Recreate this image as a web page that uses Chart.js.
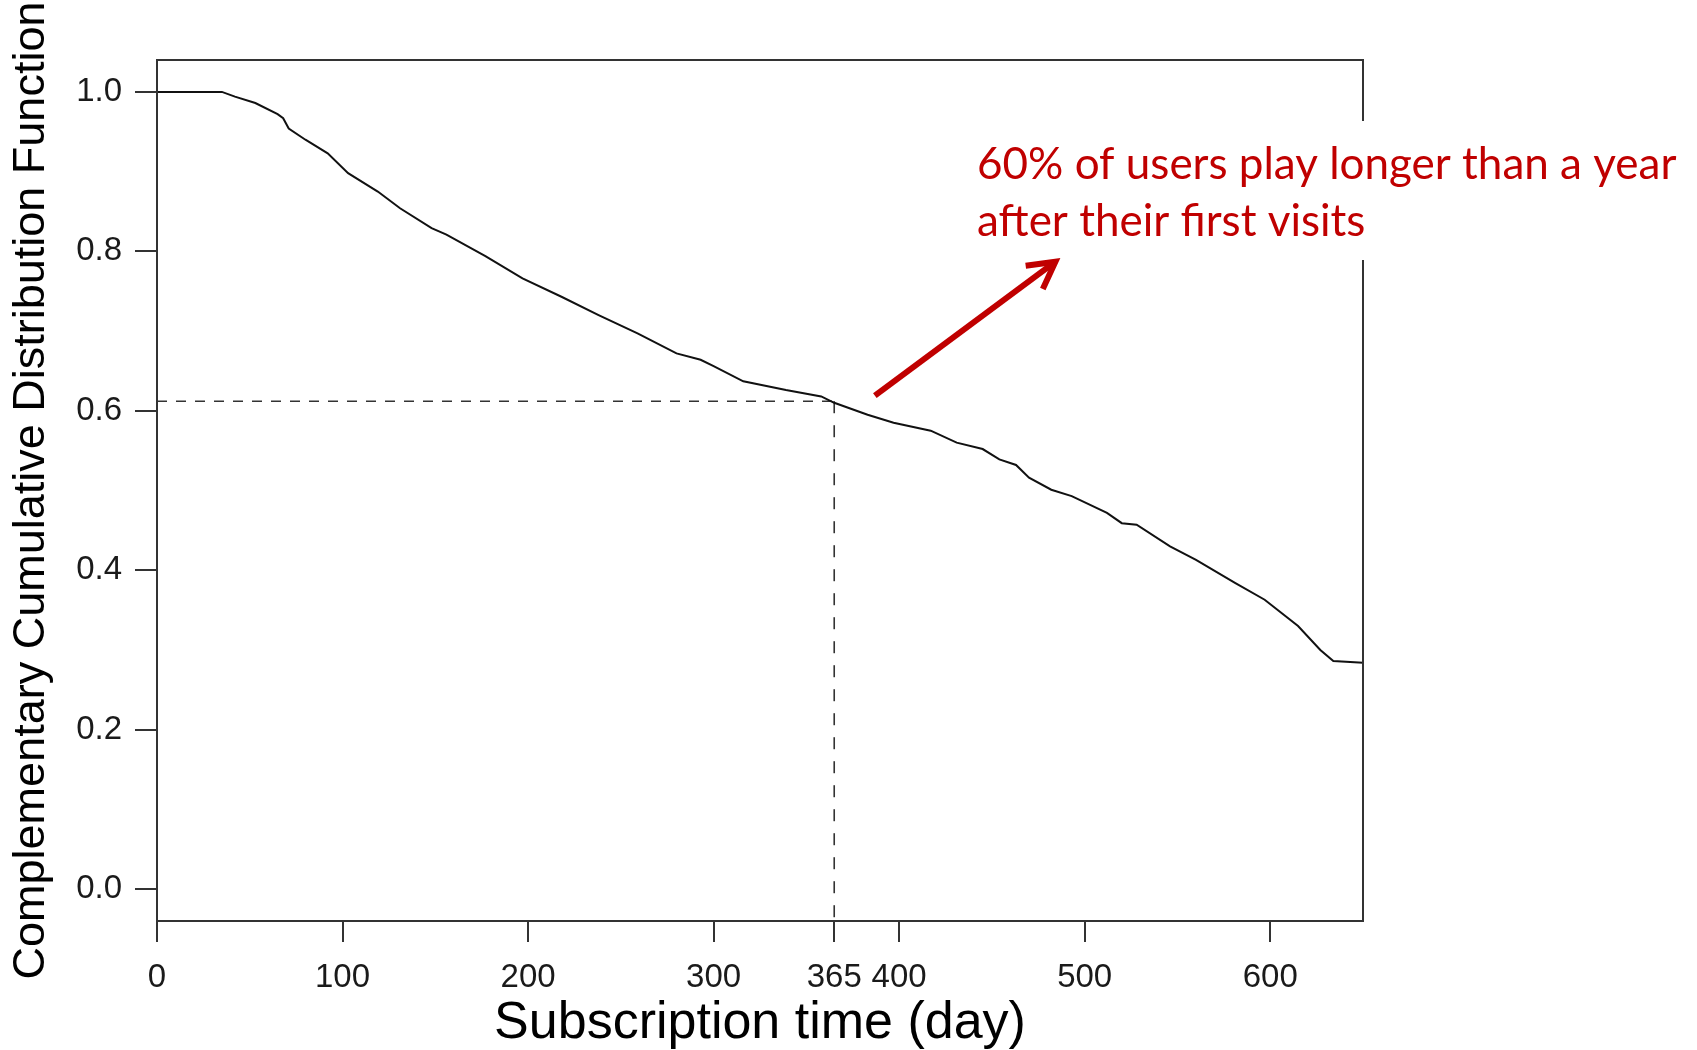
<!DOCTYPE html>
<html>
<head>
<meta charset="utf-8">
<script src="https://cdn.jsdelivr.net/npm/chart.js@4.4.1/dist/chart.umd.min.js"></script>
<style>
  html, body { margin: 0; padding: 0; background: #fff; }
  #wrap { width: 1697px; height: 1050px; position: relative; }
</style>
</head>
<body>
<div id="wrap"><canvas id="ccdf"></canvas></div>
<script>
// valores (dias de assinatura -> CCDF)
const days = [0, 35, 42, 53, 65, 68, 71, 80, 92, 103, 119, 131, 148, 156, 177, 197, 218, 238, 259, 280,
  293, 300, 316, 339, 358, 365, 383, 397, 417, 431, 445, 454, 463, 470, 482, 493, 512, 520, 528,
  546, 560, 581, 597, 615, 627, 634, 650];
const ccdf = [1.0, 1.0, 0.994, 0.986, 0.972, 0.967, 0.954, 0.940, 0.923, 0.898, 0.875, 0.854, 0.829, 0.821,
  0.794, 0.766, 0.743, 0.720, 0.697, 0.672, 0.664, 0.656, 0.637, 0.626, 0.618, 0.610, 0.595, 0.585,
  0.575, 0.560, 0.552, 0.539, 0.532, 0.516, 0.501, 0.493, 0.472, 0.459, 0.457, 0.430, 0.413, 0.384,
  0.363, 0.330, 0.300, 0.286, 0.284];

const xTicks = [0, 100, 200, 300, 365, 400, 500, 600];
const yTicks = [0, 0.2, 0.4, 0.6, 0.8, 1.0];
const markDay = 365;
const markValue = 0.612;
const noteLines = ['60% of users play longer than a year', 'after their first visits'];

const AXIS_FONT = "'Liberation Sans', Arial, sans-serif";
const RED = '#C00000';

// caixa + anotação vermelha (desenhadas por cima)
const framePlugin = {
  id: 'frame',
  afterDraw(chart) {
    const { ctx, chartArea: a, scales: { x, y } } = chart;
    ctx.save();
    ctx.strokeStyle = '#333';
    ctx.lineWidth = 2;
    ctx.strokeRect(a.left, a.top, a.right - a.left, a.bottom - a.top);

    // fundo branco da caixa de texto (corta a borda direita)
    ctx.fillStyle = '#fff';
    ctx.fillRect(965, 121, 732, 139);

    // texto
    const tx = x.getPixelForValue(442), ty = y.getPixelForValue(0.891);
    ctx.fillStyle = RED;
    ctx.font = "44px Lato, 'Open Sans', sans-serif";
    ctx.textBaseline = 'alphabetic';
    ctx.textAlign = 'left';
    const w = ctx.measureText(noteLines[0]).width;
    const sx = Math.min(1, 706 / w);
    noteLines.forEach((t, i) => {
      ctx.save();
      ctx.translate(tx, ty + i * 57.5);
      ctx.scale(sx, 1);
      ctx.fillText(t, 0, 0);
      ctx.restore();
    });

    // seta
    const x0 = x.getPixelForValue(386.9), y0 = y.getPixelForValue(0.619);
    const x1 = x.getPixelForValue(484.2), y1 = y.getPixelForValue(0.787);
    const ang = Math.atan2(y1 - y0, x1 - x0);
    ctx.strokeStyle = RED;
    ctx.lineWidth = 6;
    ctx.lineCap = 'butt';
    ctx.beginPath();
    ctx.moveTo(x0, y0);
    ctx.lineTo(x1 - 2 * Math.cos(ang), y1 - 2 * Math.sin(ang));
    ctx.stroke();
    ctx.lineJoin = 'miter';
    ctx.beginPath();
    const L = 30, spread = 0.5;
    ctx.moveTo(x1 - L * Math.cos(ang - spread), y1 - L * Math.sin(ang - spread));
    ctx.lineTo(x1, y1);
    ctx.lineTo(x1 - L * Math.cos(ang + spread), y1 - L * Math.sin(ang + spread));
    ctx.stroke();
    ctx.restore();
  }
};

const tickFont = { family: AXIS_FONT, size: 33 };

new Chart(document.getElementById('ccdf').getContext('2d'), {
  type: 'line',
  data: {
    datasets: [
      {
        label: 'CCDF',
        data: days.map((d, i) => ({ x: d, y: ccdf[i] })),
        borderColor: '#111', borderWidth: 2, pointRadius: 0, fill: false, tension: 0
      },
      {
        label: 'h365',
        data: [{ x: 0, y: markValue }, { x: markDay, y: markValue }],
        borderColor: '#333', borderWidth: 1.6, borderDash: [10, 9], pointRadius: 0
      },
      {
        label: 'v365',
        data: [{ x: markDay, y: markValue }, { x: markDay, y: -0.04 }],
        borderColor: '#333', borderWidth: 1.6, borderDash: [12, 12], pointRadius: 0
      }
    ]
  },
  options: {
    responsive: true, maintainAspectRatio: false, animation: false,
    layout: { padding: { top: 60, right: 334, bottom: 0, left: 0 } },
    plugins: { legend: { display: false }, tooltip: { enabled: false } },
    scales: {
      x: {
        type: 'linear', min: 0, max: 650,
        afterBuildTicks: (s) => { s.ticks = xTicks.map(v => ({ value: v })); },
        afterFit: (s) => { s.height = 129; },
        grid: { drawOnChartArea: false, drawTicks: true, tickLength: 21, color: '#333', lineWidth: 2 },
        border: { display: false },
        ticks: { autoSkip: false, maxRotation: 0, padding: 16, color: '#1a1a1a', font: tickFont, callback: (v) => String(v) },
        title: { display: true, text: 'Subscription time (day)', color: '#000', font: { family: AXIS_FONT, size: 52, lineHeight: 1.0 }, padding: { top: 0, bottom: 0 } }
      },
      y: {
        type: 'linear', min: -0.04, max: 1.04,
        afterBuildTicks: (s) => { s.ticks = yTicks.map(v => ({ value: v })); },
        afterFit: (s) => { s.width = 157; },
        grid: { drawOnChartArea: false, drawTicks: true, tickLength: 22, color: '#333', lineWidth: 2 },
        border: { display: false },
        ticks: { padding: 13, color: '#1a1a1a', font: tickFont, callback: (v) => Number(v).toFixed(1) },
        title: { display: true, text: 'Complementary Cumulative Distribution Function', color: '#000', font: { family: AXIS_FONT, size: 45 }, padding: { top: 5, bottom: 0 } }
      }
    }
  },
  plugins: [framePlugin]
});
</script>
</body>
</html>
